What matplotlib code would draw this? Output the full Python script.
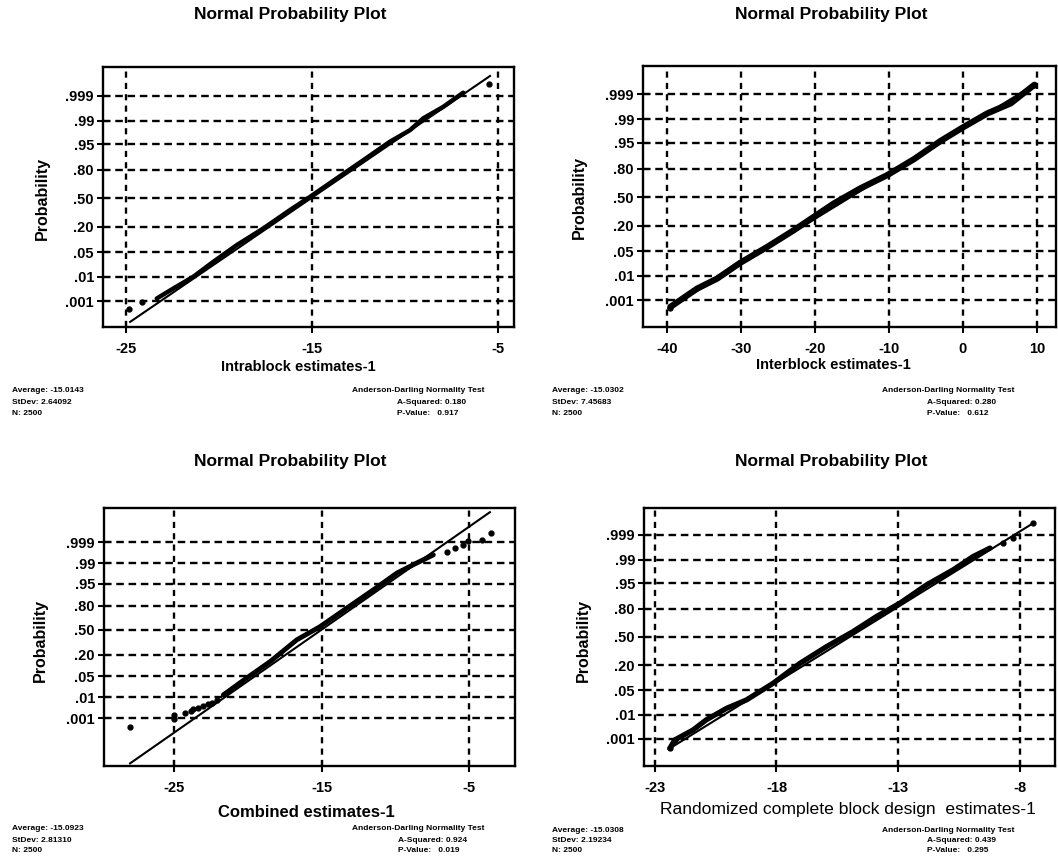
import matplotlib
matplotlib.use("Agg")
import matplotlib.pyplot as plt

plt.rcParams['font.family'] = ['Liberation Sans', 'DejaVu Sans']
plt.rcParams['axes.unicode_minus'] = False

W, H = 1058, 865

# y tick labels (probability) and their places on the plot
prob_labels = [".001", ".01", ".05", ".20", ".50", ".80", ".95", ".99", ".999"]
prob_pos = [0, 0.95, 1.91, 2.89, 4.01, 5.11, 6.11, 7.03, 8.0]

# Intrablock estimates-1
intra_x = [-23.35, -22.46, -21.38, -20.31, -19.05, -17.62, -16.18, -15.11, -13.67,
           -12.24, -10.81, -9.73, -9.02, -7.94, -6.87]
intra_y = [0.10, 0.49, 0.95, 1.53, 2.18, 2.83, 3.55, 4.06, 4.78, 5.49, 6.21, 6.66,
           7.12, 7.57, 8.12]
intra_out_x = [-24.82, -24.16, -5.47]
intra_out_y = [-0.32, -0.03, 8.44]
intra_fit_x = [-24.78, -5.43]
intra_fit_y = [-0.81, 8.77]
intra_ticks = [-25, -15, -5]

# Interblock estimates-1
inter_x = [-39.55, -35.94, -33.23, -30.07, -26.46, -22.85, -20.15, -17.44, -13.83,
           -10.22, -6.61, -3.0, 0.16, 3.32, 6.48, 9.68]
inter_y = [-0.26, 0.45, 0.84, 1.46, 2.07, 2.72, 3.24, 3.76, 4.35, 4.86, 5.48, 6.19,
           6.74, 7.26, 7.65, 8.37]
inter_out_x = [-39.6, 9.68]
inter_out_y = [-0.3, 8.37]
inter_fit_x = [-39.8, 9.64]
inter_fit_y = [-0.32, 8.37]
inter_ticks = [-40, -30, -20, -10, 0, 10]

# Combined estimates-1
comb_x = [-21.68, -20.11, -18.51, -16.7, -15.12, -13.31, -11.51, -9.92, -8.57, -7.44]
comb_y = [1.06, 1.82, 2.57, 3.56, 4.16, 5.0, 5.83, 6.59, 7.05, 7.42]
comb_out_x = [-28.0, -25.02, -25.0, -24.27, -23.9, -23.71, -23.4, -23.03, -22.75,
              -22.46, -22.1, -6.53, -5.97, -5.41, -5.07, -4.16, -3.55]
comb_out_y = [-0.38, -0.05, 0.15, 0.23, 0.33, 0.41, 0.48, 0.56, 0.63, 0.71, 0.85,
              7.54, 7.73, 7.88, 8.03, 8.1, 8.41]
comb_fit_x = [-28.0, -3.6]
comb_fit_y = [-2.05, 9.36]
comb_ticks = [-25, -15, -5]

# Randomized complete block design estimates-1
rcbd_x = [-22.38, -22.18, -21.43, -20.88, -20.05, -19.23, -18.14, -17.04, -15.94,
          -14.85, -13.89, -12.93, -11.83, -10.74, -9.92, -9.23]
rcbd_y = [-0.37, -0.04, 0.35, 0.75, 1.2, 1.53, 2.18, 2.96, 3.62, 4.21, 4.8, 5.32,
          6.04, 6.63, 7.15, 7.48]
rcbd_out_x = [-22.38, -22.18, -8.68, -8.27, -7.45]
rcbd_out_y = [-0.37, -0.04, 7.67, 7.87, 8.46]
rcbd_fit_x = [-22.38, -7.45]
rcbd_fit_y = [-0.37, 8.46]
rcbd_ticks = [-23, -18, -13, -8]

panels = [
    dict(px=(103, 514, 67, 327), xlim=(-26.24, -4.14), ylim=(-1.01, 9.12),
         x=intra_x, y=intra_y, ox=intra_out_x, oy=intra_out_y,
         fx=intra_fit_x, fy=intra_fit_y, ticks=intra_ticks, band=3.2,
         xlabel="Intrablock estimates-1", xl=(0.474, -0.154), xlw="bold", xls=10.5,
         yl=(-0.148, 0.496), title=(290, 15),
         stats=["Average: -15.0143", "StDev: 2.64092", "N: 2500"],
         ad=["A-Squared: 0.180", "P-Value:   0.917"],
         sx=(12, 485, 397), sy=(391, 402, 413)),
    dict(px=(643, 1056, 66, 327), xlim=(-43.25, 12.6), ylim=(-1.04, 9.1),
         x=inter_x, y=inter_y, ox=inter_out_x, oy=inter_out_y,
         fx=inter_fit_x, fy=inter_fit_y, ticks=inter_ticks, band=4.5,
         xlabel="Interblock estimates-1", xl=(0.46, -0.146), xlw="bold", xls=10.5,
         yl=(-0.153, 0.496), title=(831, 15),
         stats=["Average: -15.0302", "StDev: 7.45683", "N: 2500"],
         ad=["A-Squared: 0.280", "P-Value:   0.612"],
         sx=(552, 1015, 927), sy=(391, 402, 413)),
    dict(px=(104, 515, 508, 766), xlim=(-29.77, -1.9), ylim=(-2.17, 9.55),
         x=comb_x, y=comb_y, ox=comb_out_x, oy=comb_out_y,
         fx=comb_fit_x, fy=comb_fit_y, ticks=comb_ticks, band=3.5,
         xlabel="Combined estimates-1", xl=(0.493, -0.182), xlw="bold", xls=12,
         yl=(-0.156, 0.488), title=(290, 462),
         stats=["Average: -15.0923", "StDev: 2.81310", "N: 2500"],
         ad=["A-Squared: 0.924", "P-Value:   0.019"],
         sx=(12, 485, 398), sy=(829, 840, 851)),
    dict(px=(644, 1055, 508, 766), xlim=(-23.44, -6.56), ylim=(-1.06, 9.05),
         x=rcbd_x, y=rcbd_y, ox=rcbd_out_x, oy=rcbd_out_y,
         fx=rcbd_fit_x, fy=rcbd_fit_y, ticks=rcbd_ticks, band=3.8,
         xlabel="Randomized complete block design  estimates-1", xl=(0.495, -0.17),
         xlw="normal", xls=12.6,
         yl=(-0.148, 0.488), title=(831, 462),
         stats=["Average: -15.0308", "StDev: 2.19234", "N: 2500"],
         ad=["A-Squared: 0.439", "P-Value:   0.295"],
         sx=(552, 1015, 927), sy=(830, 840, 851)),
]

fig = plt.figure(figsize=(W / 100, H / 100), dpi=100)

for p in panels:
    l, r, t, b = p["px"]
    ax = fig.add_axes([l / W, 1 - b / H, (r - l) / W, (b - t) / H])
    ax.set_xlim(*p["xlim"])
    ax.set_ylim(*p["ylim"])

    # dashed grid
    for v in p["ticks"]:
        ax.axvline(v, color="black", lw=1.7, ls=(0, (2.6, 2.2)), zorder=1)
    for v in prob_pos:
        ax.axhline(v, color="black", lw=1.7, ls=(0, (3.2, 2.0)), zorder=1)

    # fitted line and points
    ax.plot(p["fx"], p["fy"], color="black", lw=1.5, zorder=3)
    ax.plot(p["x"], p["y"], color="black", lw=p["band"], solid_capstyle="round",
            solid_joinstyle="round", zorder=4)
    ax.plot(p["ox"], p["oy"], "o", color="black", ms=3.5, zorder=4)

    ax.set_xticks(p["ticks"])
    ax.set_xticklabels([str(v) for v in p["ticks"]])
    ax.set_yticks(prob_pos)
    ax.set_yticklabels(prob_labels)
    ax.tick_params(axis="x", direction="inout", length=9, width=1.5, pad=6,
                   labelsize=10.5)
    ax.tick_params(axis="y", direction="inout", length=9, width=1.5, pad=2,
                   labelsize=10.5)
    for lab in ax.get_xticklabels() + ax.get_yticklabels():
        lab.set_fontweight("bold")
    for s in ax.spines.values():
        s.set_linewidth(1.7)

    ax.set_xlabel(p["xlabel"], fontsize=p["xls"], fontweight=p["xlw"])
    ax.xaxis.set_label_coords(*p["xl"])
    ax.xaxis.label.set_va("center")
    ax.set_ylabel("Probability", fontsize=11.5, fontweight="bold")
    ax.yaxis.set_label_coords(*p["yl"])
    ax.yaxis.label.set_va("center")

    tx, ty = p["title"]
    fig.text(tx / W, 1 - ty / H, "Normal Probability Plot", ha="center", va="center",
             fontsize=12.5, fontweight="bold")

    sl, sr, sa = p["sx"]
    for txt, yy in zip(p["stats"], p["sy"]):
        fig.text(sl / W, 1 - yy / H, txt, ha="left", va="center", fontsize=6,
                 fontweight="bold")
    fig.text(sr / W, 1 - p["sy"][0] / H, "Anderson-Darling Normality Test",
             ha="right", va="center", fontsize=6, fontweight="bold")
    for txt, yy in zip(p["ad"], p["sy"][1:]):
        fig.text(sa / W, 1 - yy / H, txt, ha="left", va="center", fontsize=6,
                 fontweight="bold")

fig.savefig("out.png", dpi=100)
